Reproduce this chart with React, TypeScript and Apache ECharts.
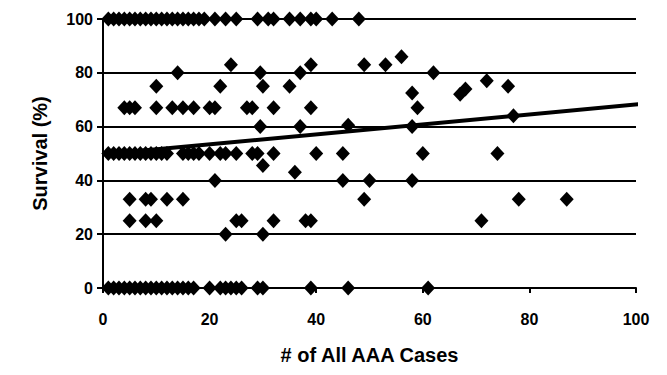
import React, { useEffect, useRef } from "react";
import * as echarts from "echarts";

// Scatter points grouped by survival (%) row: x = # of AAA cases
const row100X = [1, 2, 3, 4, 5, 6, 7, 8, 9, 10, 11, 12, 13, 14, 15, 16, 17, 18, 19, 21, 23, 25, 29, 31, 32, 35, 37, 39, 40, 43, 48];
const row0X = [1, 2, 3, 4, 5, 6, 7, 8, 9, 10, 11, 12, 13, 14, 15, 16, 17, 20, 22, 23, 24, 25, 26, 29, 30, 39, 46, 61];
const row50X = [1, 2, 3, 4, 5, 6, 7, 8, 9, 10, 11, 12, 15, 16, 17, 18, 20, 22, 23, 25, 28, 29, 32, 40, 45, 60, 74];
const row67X = [4, 5, 6, 10, 13, 15, 17, 20, 21, 27, 28, 32, 39, 59];
const row33X = [5, 8, 9, 12, 15, 49, 78, 87];
const row25X = [5, 8, 10, 25, 26, 32, 38, 39, 71];
// Other individual points [x, y]
const otherPoints: [number, number][] = [
  [14, 80], [24, 83], [29.5, 80], [37, 80], [39, 83], [49, 83], [53, 83], [56, 86], [62, 80],
  [10, 75], [22, 75], [30, 75], [35, 75], [58, 72.5], [67, 72], [68, 74], [72, 77], [76, 75],
  [29.5, 60], [37, 60], [46, 60.5], [58, 60], [77, 64],
  [30, 45.5], [36, 43], [21, 40], [45, 40], [50, 40], [58, 40],
  [23, 20], [30, 20],
];
// Linear trend line end points
const trendX = [0, 102.5];
const trendY = [49.7, 68.7];

const xTicks = { min: 0, max: 100, interval: 20 };
const yTicks = { min: 0, max: 100, interval: 20 };

function buildPoints(): [number, number][] {
  const pts: [number, number][] = [];
  row100X.forEach((x) => pts.push([x, 100]));
  row0X.forEach((x) => pts.push([x, 0]));
  row50X.forEach((x) => pts.push([x, 50]));
  row67X.forEach((x) => pts.push([x, 67]));
  row33X.forEach((x) => pts.push([x, 33]));
  row25X.forEach((x) => pts.push([x, 25]));
  otherPoints.forEach((p) => pts.push(p));
  return pts;
}

const FONT = "'Liberation Sans', Arial, sans-serif";

export default function App() {
  const ref = useRef<HTMLDivElement>(null);
  useEffect(() => {
    if (!ref.current) return;
    const chart = echarts.init(ref.current, undefined, { renderer: "svg" });
    chart.setOption({
      animation: false,
      backgroundColor: "#ffffff",
      grid: { left: 103, right: 31, top: 19, bottom: 87, containLabel: false },
      xAxis: {
        type: "value",
        min: xTicks.min,
        max: xTicks.max,
        interval: xTicks.interval,
        name: "# of All AAA Cases",
        nameLocation: "middle",
        nameGap: 57,
        nameTextStyle: { color: "#000", fontFamily: FONT, fontWeight: "bold", fontSize: 20 },
        axisLine: { show: true, lineStyle: { color: "#000", width: 2 } },
        axisTick: { show: true, inside: false, length: 5, lineStyle: { color: "#000", width: 2 } },
        axisLabel: { color: "#000", fontFamily: FONT, fontWeight: "bold", fontSize: 16, margin: 23 },
        splitLine: { show: false },
      },
      yAxis: {
        type: "value",
        min: yTicks.min,
        max: yTicks.max,
        interval: yTicks.interval,
        name: "Survival (%)",
        nameLocation: "middle",
        nameGap: 53,
        nameTextStyle: { color: "#000", fontFamily: FONT, fontWeight: "bold", fontSize: 20 },
        axisLine: { show: true, lineStyle: { color: "#000", width: 2 } },
        axisTick: { show: true, inside: false, length: 6, lineStyle: { color: "#000", width: 2 } },
        axisLabel: { color: "#000", fontFamily: FONT, fontWeight: "bold", fontSize: 16, margin: 10 },
        splitLine: { show: true, lineStyle: { color: "#000", width: 2 } },
      },
      series: [
        {
          type: "scatter",
          symbol: "diamond",
          symbolSize: [14, 15],
          itemStyle: { color: "#000", opacity: 1 },
          data: buildPoints(),
          clip: false,
          z: 3,
        },
        {
          type: "line",
          data: trendX.map((x, i) => [x, trendY[i]]),
          showSymbol: false,
          symbol: "none",
          clip: false,
          lineStyle: { color: "#000", width: 4 },
          z: 4,
        },
      ],
    });
    return () => chart.dispose();
  }, []);
  return <div ref={ref} style={{ width: 667, height: 375, position: "absolute", left: 0, top: 0 }} />;
}
